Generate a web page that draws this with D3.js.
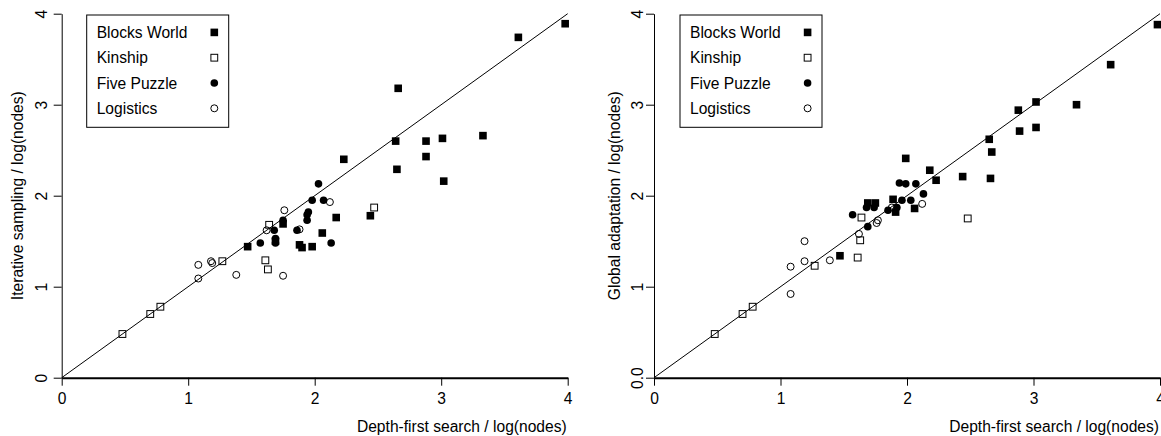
<!DOCTYPE html>
<html>
<head>
<meta charset="utf-8">
<script src="https://cdn.jsdelivr.net/npm/d3@7"></script>
<style>
  body { margin: 0; background: #fff; }
  svg { display: block; font-family: "Liberation Sans", Arial, Helvetica, sans-serif; }
</style>
</head>
<body>
<svg id="chart" width="1161" height="436"></svg>
<script>
// tick labels
var xTicks = [0, 1, 2, 3, 4];
var yTicksLeft = ["0", "1", "2", "3", "4"];
var yTicksRight = ["0.0", "1", "2", "3", "4"];

var domains = ["Blocks World", "Kinship", "Five Puzzle", "Logistics"];

// left panel: depth-first search vs iterative sampling, [dfs, is]
var isBlocks = [[1.47,1.44],[1.75,1.69],[1.69,1.50],[1.88,1.46],[1.90,1.43],[1.98,1.44],[2.06,1.59],[2.17,1.76],[2.23,2.40],
  [2.44,1.78],[2.64,2.60],[2.65,2.29],[2.66,3.18],[2.88,2.60],[2.88,2.43],[3.01,2.63],[3.02,2.16],[3.33,2.66],[3.61,3.74],[3.98,3.89]];
var isKinship = [[0.48,0.48],[0.70,0.70],[0.78,0.78],[1.27,1.28],[1.61,1.29],[1.63,1.19],[1.64,1.68],[2.47,1.87]];
var isFive = [[1.57,1.48],[1.68,1.62],[1.69,1.53],[1.69,1.48],[1.75,1.73],[1.86,1.62],[1.94,1.73],[1.94,1.79],[1.95,1.82],
  [1.98,1.95],[2.03,2.13],[2.07,1.95],[2.13,1.48]];
var isLogistics = [[1.08,1.09],[1.08,1.24],[1.18,1.28],[1.19,1.26],[1.38,1.13],[1.62,1.62],[1.75,1.12],[1.76,1.84],[1.88,1.63],[2.12,1.93]];

// right panel: depth-first search vs global adaptation, [dfs, ga]
var gaBlocks = [[1.47,1.34],[1.69,1.92],[1.75,1.92],[1.89,1.96],[1.91,1.82],[1.99,2.41],[2.06,1.86],[2.18,2.28],[2.23,2.17],
  [2.44,2.21],[2.65,2.62],[2.66,2.19],[2.67,2.48],[2.88,2.94],[2.89,2.71],[3.02,2.75],[3.02,3.03],[3.34,3.00],[3.61,3.44],[3.98,3.88]];
var gaKinship = [[0.48,0.48],[0.70,0.70],[0.78,0.78],[1.27,1.23],[1.61,1.32],[1.63,1.51],[1.64,1.76],[2.48,1.75]];
var gaFive = [[1.57,1.79],[1.68,1.87],[1.69,1.66],[1.74,1.87],[1.85,1.84],[1.92,1.87],[1.94,2.14],[1.96,1.95],[1.99,2.13],
  [2.03,1.95],[2.07,2.13],[2.13,2.02]];
var gaLogistics = [[1.08,0.92],[1.08,1.22],[1.19,1.50],[1.19,1.28],[1.39,1.29],[1.62,1.58],[1.76,1.70],[1.77,1.73],[1.88,1.87],[2.12,1.91]];

var svg = d3.select("#chart");
var fontSize = 15.6;

var panels = [
  { x0: 61.7, x1: 567.7, yLab: yTicksLeft, title: "Iterative sampling / log(nodes)", tickOff: -15, titleOff: -39,
    legendX: 86.7, series: [isBlocks, isKinship, isFive, isLogistics] },
  { x0: 654, x1: 1160, yLab: yTicksRight, title: "Global adaptation / log(nodes)", tickOff: -11, titleOff: -34,
    legendX: 680, series: [gaBlocks, gaKinship, gaFive, gaLogistics] }
];

function drawSymbol(g, type, px, py) {
  if (type == 0) {
    g.append("rect").attr("x", px - 3.8).attr("y", py - 3.8).attr("width", 7.6).attr("height", 7.6)
      .attr("fill", "#000");
  } else if (type == 1) {
    g.append("rect").attr("x", px - 3.4).attr("y", py - 3.4).attr("width", 6.8).attr("height", 6.8)
      .attr("fill", "none").attr("stroke", "#000").attr("stroke-width", 1);
  } else if (type == 2) {
    g.append("circle").attr("cx", px).attr("cy", py).attr("r", 3.8).attr("fill", "#000");
  } else {
    g.append("circle").attr("cx", px).attr("cy", py).attr("r", 3.5)
      .attr("fill", "none").attr("stroke", "#000").attr("stroke-width", 1);
  }
}

panels.forEach(function(p) {
  var x = d3.scaleLinear().domain([0, 4]).range([p.x0, p.x1]);
  var y = d3.scaleLinear().domain([0, 4]).range([377.7, 13.7]);

  var g = svg.append("g");

  // x axis
  var xAxis = g.append("g")
    .attr("transform", "translate(0," + y(0) + ")")
    .call(d3.axisBottom(x).tickValues(xTicks).tickFormat(d3.format("d"))
      .tickSize(8).tickSizeOuter(0).tickPadding(7));
  xAxis.select(".domain").attr("stroke-width", 2);
  xAxis.selectAll("text").attr("font-size", fontSize).attr("font-family", null).attr("fill", "#000");

  // y axis
  var yAxis = g.append("g")
    .attr("transform", "translate(" + x(0) + ",0)")
    .call(d3.axisLeft(y).tickValues([0, 1, 2, 3, 4]).tickSize(8).tickSizeOuter(0)
      .tickFormat(function(d, i) { return p.yLab[i]; }));
  yAxis.selectAll("text")
    .attr("x", null).attr("dy", null)
    .attr("text-anchor", "middle")
    .attr("transform", "translate(" + p.tickOff + ",0) rotate(-90)")
    .attr("font-size", fontSize).attr("font-family", null).attr("fill", "#000");

  // axis titles
  g.append("text")
    .attr("x", x(4) - 1).attr("y", 432)
    .attr("text-anchor", "end")
    .attr("font-size", fontSize)
    .text("Depth-first search / log(nodes)");

  g.append("text")
    .attr("transform", "translate(" + (x(0) + p.titleOff) + "," + ((y(0) + y(4)) / 2) + ") rotate(-90)")
    .attr("text-anchor", "middle")
    .attr("font-size", fontSize)
    .text(p.title);

  // y = x reference line
  g.append("path")
    .attr("d", d3.line().x(function(d) { return x(d); }).y(function(d) { return y(d); })([0, 4]))
    .attr("stroke", "#000").attr("stroke-width", 1).attr("fill", "none");

  // points
  p.series.forEach(function(s, k) {
    s.forEach(function(d) { drawSymbol(g, k, x(d[0]), y(d[1])); });
  });

  // legend
  var lg = g.append("g");
  lg.append("rect")
    .attr("x", p.legendX).attr("y", 15).attr("width", 142).attr("height", 112.3)
    .attr("fill", "#fff").attr("stroke", "#000").attr("stroke-width", 1);
  domains.forEach(function(name, i) {
    var cy = 32.4 + i * 25.3;
    lg.append("text")
      .attr("x", p.legendX + 10).attr("y", cy + 5.6)
      .attr("font-size", fontSize)
      .text(name);
    drawSymbol(lg, i, p.legendX + 127.6, cy);
  });
});
</script>
</body>
</html>
